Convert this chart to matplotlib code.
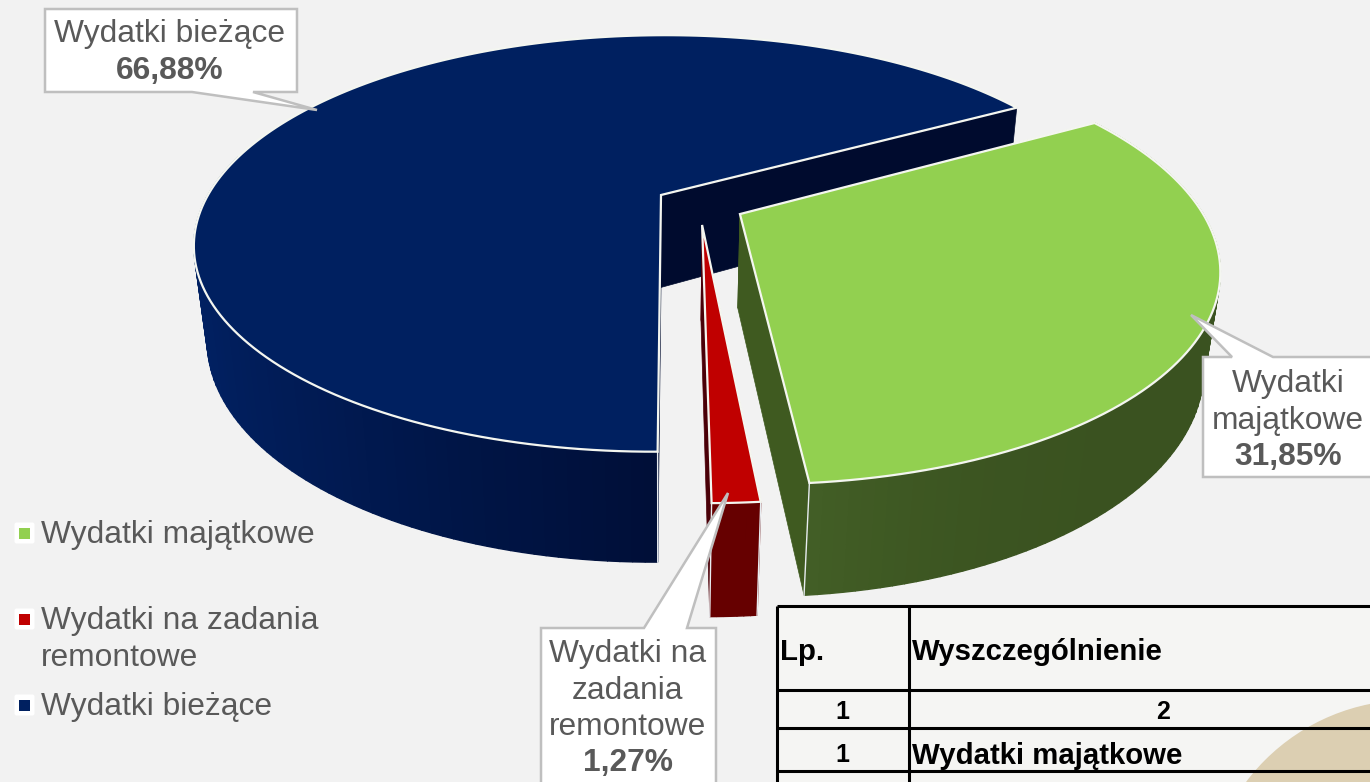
import numpy as np
import matplotlib
matplotlib.use('Agg')
import matplotlib.pyplot as plt
from matplotlib.patches import Polygon, Rectangle, Circle, FancyBboxPatch

plt.rcParams['font.family'] = ['Liberation Sans', 'DejaVu Sans']

# chart data
categories = ['Wydatki majątkowe', 'Wydatki na zadania remontowe', 'Wydatki bieżące']
shares = [31.85, 1.27, 66.88]
share_labels = ['31,85%', '1,27%', '66,88%']
top_colors = ['#92d050', '#c00000', '#002060']
wall_near = ['#50732f', '#660000', '#000f38']
wall_far = ['#3a5220', '#660000', '#012265']
wall_power = [3, 1, 1]
face_colors = ['#3f5a20', '#4a0008', '#000b2e']

table_header = ['Lp.', 'Wyszczególnienie']
table_index = ['1', '2']
table_row = ['1', 'Wydatki majątkowe']

TEXT = '#595959'
BG = '#f2f2f2'

# pie model
start_angle = 29.6
explode = 0.098
a, b, h, d, k = 453.0, 197.0, 95.0, 4.3, 0.12
shear = 5.5
x0, y0 = 661.0, 195.0


def project(u, v, z=0.0):
    s = d / (d - v + k * z)
    return x0 + (a * u - shear * v) * s, y0 + (b * v + h * z) * s


def wedge_angles():
    ang = start_angle
    res = []
    for val in shares:
        sweep = val / 100.0 * 360.0
        res.append((ang, ang - sweep))
        ang -= sweep
    return res


angles = wedge_angles()
blue_mid = np.radians((angles[2][0] + angles[2][1]) / 2)
cu, cv = -explode * np.cos(blue_mid), explode * np.sin(blue_mid)


def blend(c1, c2, t):
    r1 = np.array(matplotlib.colors.to_rgb(c1))
    r2 = np.array(matplotlib.colors.to_rgb(c2))
    return tuple(r1 + (r2 - r1) * t)


fig = plt.figure(figsize=(13.7, 7.82), dpi=100)
ax = fig.add_axes([0, 0, 1, 1])
ax.set_xlim(0, 1370)
ax.set_ylim(782, 0)
ax.axis('off')
fig.patch.set_facecolor(BG)

# tan decoration and table background
ax.add_patch(Rectangle((777, 606), 593, 176, fc='#f5f5f3', ec='none', zorder=1))
ax.add_patch(Circle((1410, 905), 205, fc='#dccfb2', ec='none', zorder=1.2))


def draw_slice(i, zo):
    t0, t1 = angles[i]
    mid = np.radians((t0 + t1) / 2)
    ou, ov = cu + explode * np.cos(mid), cv - explode * np.sin(mid)
    th = np.radians(np.linspace(t0, t1, max(int(abs(t1 - t0) * 0.8), 8)))
    us = ou + np.cos(th)
    vs = ov - np.sin(th)

    # radial side faces
    for ang in (t0, t1):
        r = np.radians(ang)
        eu, ev = ou + np.cos(r), ov - np.sin(r)
        pts = [project(ou, ov), project(eu, ev), project(eu, ev, 1), project(ou, ov, 1)]
        ax.add_patch(Polygon(pts, fc=face_colors[i], ec=face_colors[i], lw=0.5, zorder=zo))

    # outer wall, painted back to front
    order = np.argsort(vs[:-1])
    for j in order:
        if vs[j] < -0.2 and i == 2:
            continue
        t = np.clip(1 - abs(us[j]), 0, 1) ** wall_power[i]
        col = blend(wall_far[i], wall_near[i], t)
        pts = [project(us[j], vs[j]), project(us[j + 1], vs[j + 1]),
               project(us[j + 1], vs[j + 1], 1), project(us[j], vs[j], 1)]
        ax.add_patch(Polygon(pts, fc=col, ec=col, lw=1.0, zorder=zo + 0.1))

    # top surface
    px, py = project(us, vs)
    ax_, ay_ = project(ou, ov)
    top = np.column_stack([np.r_[ax_, px], np.r_[ay_, py]])
    ax.add_patch(Polygon(top, closed=True, fc=top_colors[i], ec='#f4f6f0', lw=1.6,
                         joinstyle='miter', zorder=zo + 0.2))

    # white vertical edges at slice ends facing viewer
    for ang in (t0, t1):
        r = np.radians(ang)
        eu, ev = ou + np.cos(r), ov - np.sin(r)
        if ev > 0.5:
            p1, p2 = project(eu, ev), project(eu, ev, 1)
            ax.plot([p1[0], p2[0]], [p1[1], p2[1]], color='#e8ecf0', lw=1.0, zorder=zo + 0.15)


draw_slice(2, 2)
draw_slice(1, 3)
draw_slice(0, 4)


def callout(box, base, tip):
    x, y, w, hh = box
    if base[1] > y + hh / 2:
        pts = [(x, y), (x + w, y), (x + w, y + hh), (base[2], y + hh), tip, (base[0], y + hh), (x, y + hh)]
    else:
        pts = [(x, y), (base[0], y), tip, (base[2], y), (x + w, y), (x + w, y + hh), (x, y + hh)]
    ax.add_patch(Polygon(pts, closed=True, fc='white', ec='#bfbfbf', lw=1.8, joinstyle='miter', zorder=6))


# callouts: box, pointer base, pointer tip
callout((45, 9, 252, 83), (192, 91, 253), (317, 110))
callout((1203, 357, 200, 120), (1232, 357, 1273), (1191, 315))
callout((541, 628, 175, 200), (644, 628, 687), (728, 493))

label_font = 22.9
ax.text(170, 34, 'Wydatki bieżące', color=TEXT, fontsize=label_font, ha='center', va='center', zorder=7)
ax.text(170, 71, share_labels[2], color=TEXT, fontsize=label_font, fontweight='bold', ha='center', va='center', zorder=7)
for yy, s in zip([384, 421], ['Wydatki', 'majątkowe']):
    ax.text(1288, yy, s, color=TEXT, fontsize=label_font, ha='center', va='center', zorder=7)
ax.text(1288, 457, share_labels[0], color=TEXT, fontsize=label_font, fontweight='bold', ha='center', va='center', zorder=7)
for yy, s in zip([654, 691, 727], ['Wydatki na', 'zadania', 'remontowe']):
    ax.text(628, yy, s, color=TEXT, fontsize=label_font, ha='center', va='center', zorder=7)
ax.text(628, 763, share_labels[1], color=TEXT, fontsize=label_font, fontweight='bold', ha='center', va='center', zorder=7)

# legend
legend_y = [533, 619, 705]
for cat, col, yy in zip(categories, top_colors, legend_y):
    ax.add_patch(FancyBboxPatch((16, yy - 9), 17, 18, boxstyle='round,pad=1.5,rounding_size=2',
                                fc='white', ec='none', zorder=5))
    ax.add_patch(Rectangle((19, yy - 5.5), 11, 11, fc=col, ec='none', zorder=5.5))
ax.text(41, 535, categories[0], color=TEXT, fontsize=label_font, va='center', zorder=7)
ax.text(41, 621, 'Wydatki na zadania', color=TEXT, fontsize=label_font, va='center', zorder=7)
ax.text(41, 658, 'remontowe', color=TEXT, fontsize=label_font, va='center', zorder=7)
ax.text(41, 707, categories[2], color=TEXT, fontsize=label_font, va='center', zorder=7)

# table
for yy in [606, 690, 728, 771]:
    ax.plot([777, 1370], [yy, yy], color='black', lw=2.2, solid_capstyle='butt', zorder=5)
for xx in [777, 909]:
    ax.plot([xx, xx], [606, 782], color='black', lw=2.2, solid_capstyle='butt', zorder=5)
tfont = dict(color='black', fontsize=21.2, fontweight='bold', va='center', zorder=7)
ax.text(780, 652, table_header[0], ha='left', **tfont)
ax.text(912, 652, table_header[1], ha='left', **tfont)
ax.text(842, 712, table_index[0], ha='center', **{**tfont, 'fontsize': 18})
ax.text(1163, 712, table_index[1], ha='center', **{**tfont, 'fontsize': 18})
ax.text(842, 755, table_row[0], ha='center', **{**tfont, 'fontsize': 18})
ax.text(912, 756, table_row[1], ha='left', **tfont)

fig.savefig('out.png', dpi=100, facecolor=BG)
